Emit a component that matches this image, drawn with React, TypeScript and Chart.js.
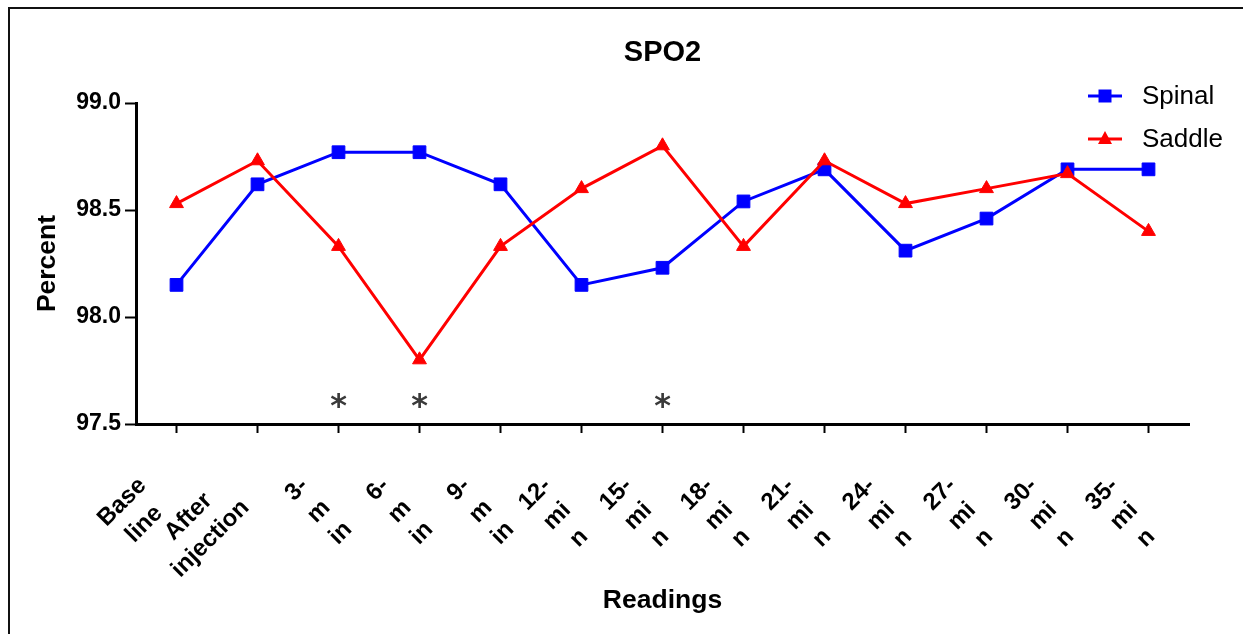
import React, { useEffect, useRef } from 'react';
import { Chart, registerables } from 'chart.js';

Chart.register(...registerables);

// ---- data ----
const categories: string[][] = [
  ['Base', 'line'],
  ['After', 'injection'],
  ['3-', 'm', 'in'],
  ['6-', 'm', 'in'],
  ['9-', 'm', 'in'],
  ['12-', 'mi', 'n'],
  ['15-', 'mi', 'n'],
  ['18-', 'mi', 'n'],
  ['21-', 'mi', 'n'],
  ['24-', 'mi', 'n'],
  ['27-', 'mi', 'n'],
  ['30-', 'mi', 'n'],
  ['35-', 'mi', 'n'],
];
const spinal = [98.15, 98.62, 98.77, 98.77, 98.62, 98.15, 98.23, 98.54, 98.69, 98.31, 98.46, 98.69, 98.69];
const saddle = [98.53, 98.73, 98.33, 97.8, 98.33, 98.6, 98.8, 98.33, 98.73, 98.53, 98.6, 98.67, 98.4];
const significantIdx = [2, 3, 6];
const asteriskLevel = 97.61;
const yTicks = [97.5, 98.0, 98.5, 99.0];
const seriesNames = ['Spinal', 'Saddle'];
const titleText = 'SPO2';
const xTitle = 'Readings';
const yTitle = 'Percent';

// ---- styles ----
const FONT = '"Liberation Sans", Arial, Helvetica, sans-serif';
const BLUE = '#0000FF';
const RED = '#FF0000';
const TICK_FONT_SIZE = 24;
const LABEL_DX = -45;
const LABEL_DY = 47;
const LABEL_LINE = 31;

const xLabelPlugin = {
  id: 'xLabels',
  afterDraw(chart: any) {
    const ctx = chart.ctx;
    const xs = chart.scales.x;
    const bottom = chart.chartArea.bottom;
    ctx.save();
    ctx.font = `bold ${TICK_FONT_SIZE}px ${FONT}`;
    ctx.fillStyle = '#000';
    ctx.textAlign = 'center';
    ctx.textBaseline = 'middle';
    categories.forEach((lines, i) => {
      const px = xs.getPixelForTick(i);
      const w = Math.max(...lines.map((l) => ctx.measureText(l).width));
      ctx.save();
      ctx.translate(px + LABEL_DX, bottom + LABEL_DY);
      ctx.rotate(-Math.PI / 4);
      lines.forEach((l, k) => ctx.fillText(l, -w / 2, (k + 0.5) * LABEL_LINE));
      ctx.restore();
    });
    ctx.restore();
  },
};

const asteriskPlugin = {
  id: 'asterisks',
  afterDatasetsDraw(chart: any) {
    const ctx = chart.ctx;
    const xs = chart.scales.x;
    const ys = chart.scales.y;
    ctx.save();
    ctx.font = `bold 32px "DejaVu Sans", sans-serif`;
    ctx.fillStyle = '#3a3a3a';
    ctx.textAlign = 'center';
    ctx.textBaseline = 'alphabetic';
    const m = ctx.measureText('*');
    const shift = (m.actualBoundingBoxAscent - m.actualBoundingBoxDescent) / 2;
    significantIdx.forEach((i) => {
      const x = xs.getPixelForValue(i);
      const y = ys.getPixelForValue(asteriskLevel);
      ctx.fillText('*', x, y + shift);
    });
    ctx.restore();
  },
};

const legendPlugin = {
  id: 'customLegend',
  afterDraw(chart: any) {
    const ctx = chart.ctx;
    const rows = [
      { name: seriesNames[0], color: BLUE, style: 'rect', y: 96 },
      { name: seriesNames[1], color: RED, style: 'triangle', y: 139 },
    ];
    ctx.save();
    rows.forEach((r) => {
      ctx.strokeStyle = r.color;
      ctx.fillStyle = r.color;
      ctx.lineWidth = 3;
      ctx.beginPath();
      ctx.moveTo(1088, r.y);
      ctx.lineTo(1122, r.y);
      ctx.stroke();
      const cx = 1105;
      ctx.beginPath();
      if (r.style === 'rect') {
        ctx.rect(cx - 6.5, r.y - 6.5, 13, 13);
      } else {
        ctx.moveTo(cx, r.y - 8);
        ctx.lineTo(cx + 7, r.y + 5);
        ctx.lineTo(cx - 7, r.y + 5);
        ctx.closePath();
      }
      ctx.fill();
      ctx.fillStyle = '#000';
      ctx.font = `26px ${FONT}`;
      ctx.textAlign = 'left';
      ctx.textBaseline = 'middle';
      ctx.fillText(r.name, 1142, r.y + 1);
    });
    ctx.restore();
  },
};

export default function App() {
  const ref = useRef<HTMLCanvasElement>(null);
  useEffect(() => {
    const chart = new Chart(ref.current as HTMLCanvasElement, {
      type: 'line',
      data: {
        labels: categories.map((c) => c.join('')),
        datasets: [
          {
            label: seriesNames[0],
            data: spinal,
            borderColor: BLUE,
            backgroundColor: BLUE,
            borderWidth: 3,
            pointStyle: 'rect',
            pointRadius: 9,
            pointHoverRadius: 9,
            pointBorderWidth: 1,
            tension: 0,
            order: 1,
          },
          {
            label: seriesNames[1],
            data: saddle,
            borderColor: RED,
            backgroundColor: RED,
            borderWidth: 3,
            pointStyle: 'triangle',
            pointRadius: 8,
            pointHoverRadius: 8,
            pointBorderWidth: 1,
            tension: 0,
            order: 0,
          },
        ],
      },
      options: {
        responsive: false,
        animation: false,
        events: [],
        layout: { padding: { left: 30, right: 54, top: 20, bottom: 15 } },
        plugins: {
          legend: { display: false },
          tooltip: { enabled: false },
          title: {
            display: true,
            fullSize: false,
            text: titleText,
            color: '#000',
            font: { family: FONT, size: 29, weight: 'bold', lineHeight: 1.2 },
            padding: { top: 16, bottom: 32.2 },
          },
        },
        scales: {
          x: {
            type: 'category',
            offset: true,
            grid: {
              display: true,
              drawOnChartArea: false,
              drawTicks: true,
              tickLength: 9,
              tickWidth: 2,
              tickColor: '#000',
              color: '#000',
            },
            border: { display: true, color: '#000', width: 3 },
            ticks: { display: false },
            title: {
              display: true,
              text: xTitle,
              color: '#000',
              font: { family: FONT, size: 26.5, weight: 'bold', lineHeight: 1.2 },
              padding: { top: 0, bottom: 2 },
            },
            afterFit: (s: any) => {
              s.height = 195;
            },
          },
          y: {
            min: 97.5,
            max: 99.0,
            afterBuildTicks: (s: any) => {
              s.ticks = yTicks.map((v) => ({ value: v }));
            },
            grid: {
              display: true,
              drawOnChartArea: false,
              drawTicks: true,
              tickLength: 11,
              tickWidth: 2,
              tickColor: '#000',
              color: '#000',
            },
            border: { display: true, color: '#000', width: 3 },
            ticks: {
              color: '#000',
              font: { family: FONT, size: 23, weight: 'bold' },
              padding: 4,
              callback: (v: any) => Number(v).toFixed(1),
            },
            title: {
              display: true,
              text: yTitle,
              color: '#000',
              font: { family: FONT, size: 26.5, weight: 'bold', lineHeight: 1.2 },
              padding: { top: 2, bottom: 0 },
            },
            afterFit: (s: any) => {
              s.width = 106;
            },
          },
        },
      },
      plugins: [xLabelPlugin, asteriskPlugin, legendPlugin],
    } as any);
    return () => chart.destroy();
  }, []);
  return (
    <div
      style={{
        position: 'fixed',
        left: 0,
        top: 0,
        width: 1243,
        height: 634,
        overflow: 'hidden',
        background: '#fff',
      }}
    >
      <div
        style={{
          position: 'absolute',
          left: 8,
          top: 7,
          width: 1400,
          height: 800,
          borderTop: '2px solid #111',
          borderLeft: '2px solid #111',
        }}
      />
      <canvas
        ref={ref}
        width={1243}
        height={634}
        style={{ position: 'absolute', left: 0, top: 0, width: 1243, height: 634 }}
      />
    </div>
  );
}
